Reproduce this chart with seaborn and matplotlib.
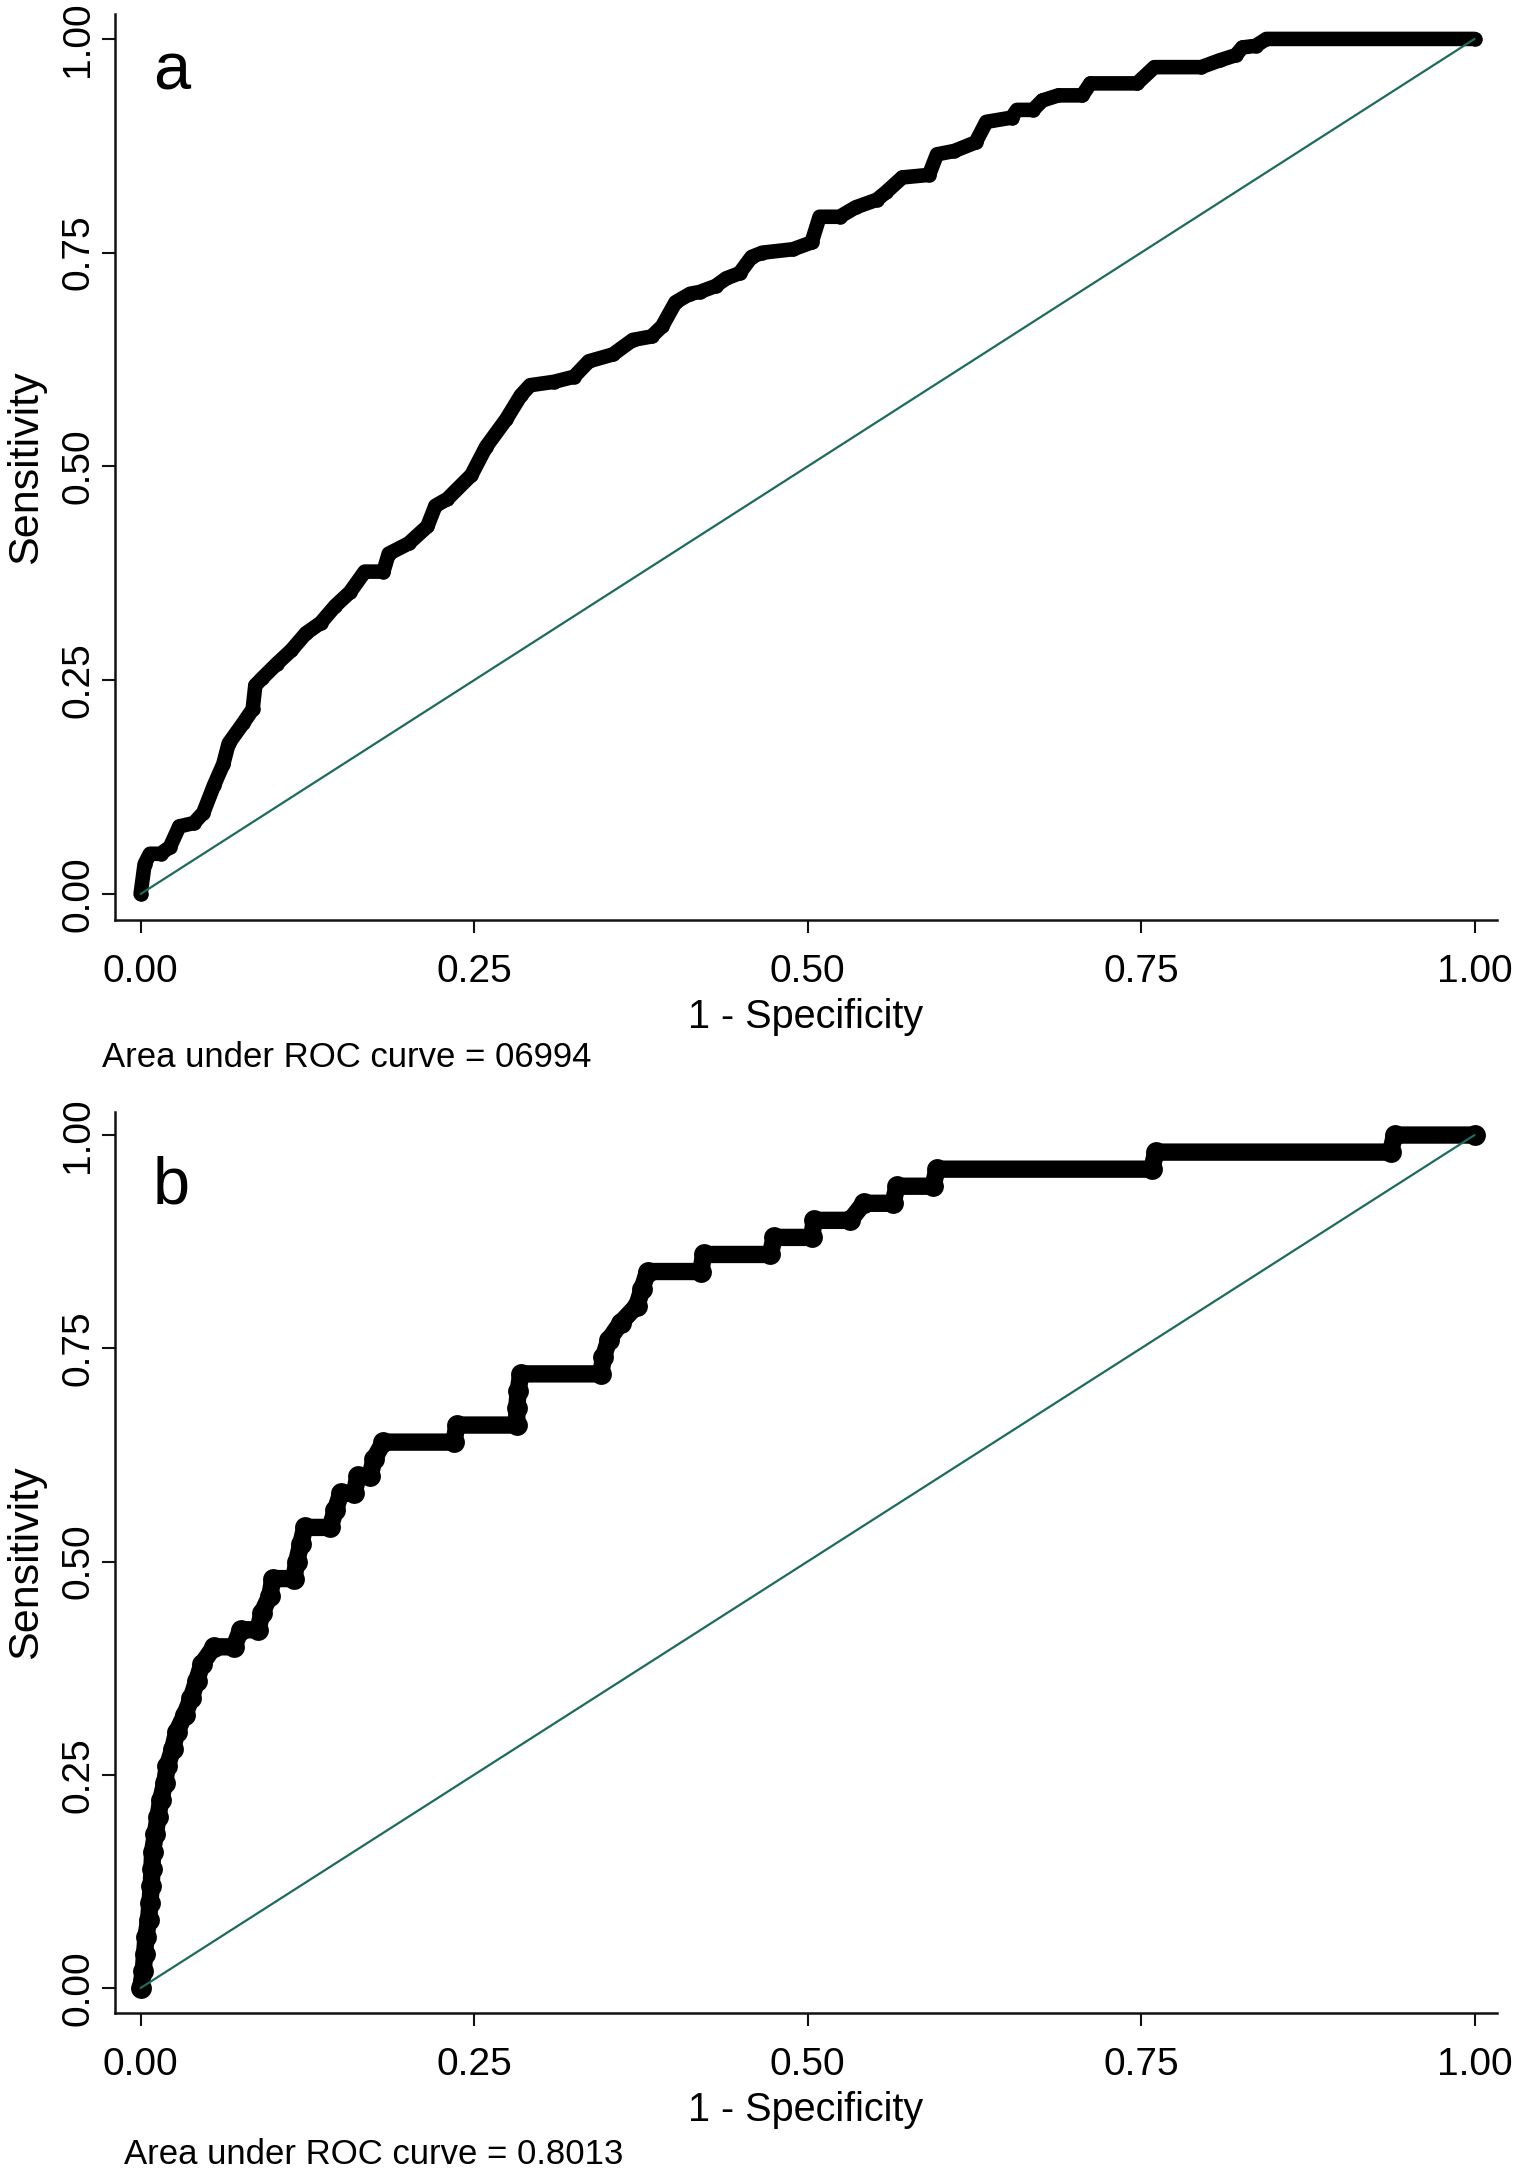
import matplotlib
matplotlib.use("Agg")
import matplotlib.pyplot as plt
import seaborn as sns
import pandas as pd

# ---------------- data ----------------
tick_vals = [0.0, 0.25, 0.5, 0.75, 1.0]
tick_labels = ["0.00", "0.25", "0.50", "0.75", "1.00"]

a_fpr = [0.000, 0.003, 0.007, 0.015, 0.022, 0.029, 0.040, 0.047, 0.055, 0.062,
         0.066, 0.077, 0.084, 0.086, 0.091, 0.102, 0.113, 0.124, 0.135, 0.146,
         0.157, 0.168, 0.182, 0.186, 0.201, 0.215, 0.221, 0.230, 0.248, 0.259,
         0.274, 0.285, 0.292, 0.310, 0.325, 0.336, 0.354, 0.369, 0.383, 0.391,
         0.401, 0.412, 0.419, 0.431, 0.439, 0.449, 0.458, 0.466, 0.489, 0.503,
         0.509, 0.524, 0.536, 0.552, 0.559, 0.571, 0.591, 0.597, 0.610, 0.626,
         0.634, 0.653, 0.657, 0.669, 0.676, 0.688, 0.706, 0.712, 0.747, 0.760,
         0.795, 0.809, 0.821, 0.826, 0.836, 0.844, 1.000]
a_tpr = [0.000, 0.035, 0.047, 0.047, 0.055, 0.079, 0.083, 0.095, 0.127, 0.152,
         0.176, 0.200, 0.216, 0.244, 0.252, 0.269, 0.285, 0.305, 0.317, 0.337,
         0.353, 0.377, 0.377, 0.398, 0.410, 0.430, 0.454, 0.462, 0.490, 0.523,
         0.555, 0.583, 0.595, 0.599, 0.605, 0.623, 0.631, 0.648, 0.652, 0.664,
         0.692, 0.702, 0.704, 0.711, 0.720, 0.726, 0.745, 0.750, 0.754, 0.762,
         0.792, 0.792, 0.803, 0.812, 0.821, 0.838, 0.841, 0.865, 0.869, 0.879,
         0.903, 0.908, 0.917, 0.917, 0.928, 0.934, 0.934, 0.948, 0.948, 0.967,
         0.967, 0.975, 0.981, 0.990, 0.992, 1.000, 1.000]

b_fpr = [0.000, 0.002, 0.003, 0.004, 0.006, 0.007, 0.008, 0.0085, 0.009, 0.011,
         0.013, 0.015, 0.018, 0.020, 0.024, 0.027, 0.033, 0.038, 0.042, 0.046,
         0.055, 0.070, 0.075, 0.088, 0.091, 0.097, 0.099, 0.115, 0.117, 0.120,
         0.123, 0.142, 0.146, 0.150, 0.160, 0.163, 0.172, 0.175, 0.182, 0.235,
         0.237, 0.282, 0.282, 0.283, 0.285, 0.345, 0.347, 0.351, 0.360, 0.372,
         0.376, 0.380, 0.420, 0.422, 0.472, 0.475, 0.503, 0.505, 0.532, 0.542,
         0.564, 0.567, 0.594, 0.597, 0.758, 0.761, 0.937, 0.940, 1.000]
b_tpr = [0.00, 0.02, 0.04, 0.06, 0.08, 0.10, 0.12, 0.14, 0.16, 0.18,
         0.20, 0.22, 0.24, 0.26, 0.28, 0.30, 0.32, 0.34, 0.36, 0.38,
         0.40, 0.40, 0.42, 0.42, 0.44, 0.46, 0.48, 0.48, 0.50, 0.52,
         0.54, 0.54, 0.56, 0.58, 0.58, 0.60, 0.60, 0.62, 0.64, 0.64,
         0.66, 0.66, 0.68, 0.70, 0.72, 0.72, 0.74, 0.76, 0.78, 0.80,
         0.82, 0.84, 0.84, 0.86, 0.86, 0.88, 0.88, 0.90, 0.90, 0.92,
         0.92, 0.94, 0.94, 0.96, 0.96, 0.98, 0.98, 1.00, 1.00]

ref_x = [0.0, 1.0]
ref_y = [0.0, 1.0]

panel_letters = ["a", "b"]
auc_texts = ["Area under ROC curve = 06994", "Area under ROC curve = 0.8013"]
x_title = "1 - Specificity"
y_title = "Sensitivity"

# ---------------- style ----------------
sns.set_style("ticks")
plt.rcParams["font.family"] = ["Liberation Sans", "DejaVu Sans"]
plt.rcParams["axes.linewidth"] = 1.8
plt.rcParams["text.color"] = "black"
plt.rcParams["axes.labelcolor"] = "black"
plt.rcParams["xtick.color"] = "#111111"
plt.rcParams["ytick.color"] = "#111111"
plt.rcParams["xtick.labelcolor"] = "black"
plt.rcParams["ytick.labelcolor"] = "black"

ref_color = "#1c6b5d"

fig = plt.figure(figsize=(15.15, 21.8), dpi=100)
ax_a = fig.add_axes([0.0759, 0.5780, 0.9122, 0.4156])
ax_b = fig.add_axes([0.0759, 0.0766, 0.9122, 0.4133])

panels = [
    dict(ax=ax_a, fpr=a_fpr, tpr=a_tpr, lw=10.5, ms=10.5, ylim=(-0.0304, 1.0292),
         letter_y=0.941, auc_xy=(0.0673, 0.5106)),
    dict(ax=ax_b, fpr=b_fpr, tpr=b_tpr, lw=12.5, ms=15.0, ylim=(-0.0293, 1.027),
         letter_y=0.920, auc_xy=(0.0818, 0.0073)),
]

for i, p in enumerate(panels):
    ax = p["ax"]
    df = pd.DataFrame({"fpr": p["fpr"], "tpr": p["tpr"]})
    sns.lineplot(data=df, x="fpr", y="tpr", sort=False, estimator=None,
                 color="black", lw=p["lw"], marker="o", markersize=p["ms"],
                 markeredgewidth=0, solid_joinstyle="round",
                 solid_capstyle="round", ax=ax, zorder=2)
    sns.lineplot(x=ref_x, y=ref_y, sort=False, estimator=None,
                 color=ref_color, lw=1.6, ax=ax, zorder=3)

    ax.set_xlim(-0.0192, 1.0168)
    ax.set_ylim(*p["ylim"])
    ax.set_xticks(tick_vals)
    ax.set_xticklabels(tick_labels, fontsize=28)
    ax.set_yticks(tick_vals)
    ax.set_yticklabels(tick_labels, fontsize=28, rotation=90, va="center")
    ax.tick_params(axis="both", direction="out", length=9.4, width=1.5)
    ax.tick_params(axis="x", pad=15)
    ax.tick_params(axis="y", pad=4)
    sns.despine(ax=ax, top=True, right=True)
    for s in ["left", "bottom"]:
        ax.spines[s].set_color("#111111")

    ax.set_xlabel(x_title, fontsize=28.5, labelpad=6)
    ax.set_ylabel(y_title, fontsize=31)
    ax.yaxis.set_label_coords(-0.050, 0.5)

    ax.text(0.0093, p["letter_y"], panel_letters[i], fontsize=48,
            ha="left", va="baseline", transform=ax.transData)
    fig.text(p["auc_xy"][0], p["auc_xy"][1], auc_texts[i], fontsize=25,
             ha="left", va="baseline")

fig.savefig("out.png", dpi=100, facecolor="white")
